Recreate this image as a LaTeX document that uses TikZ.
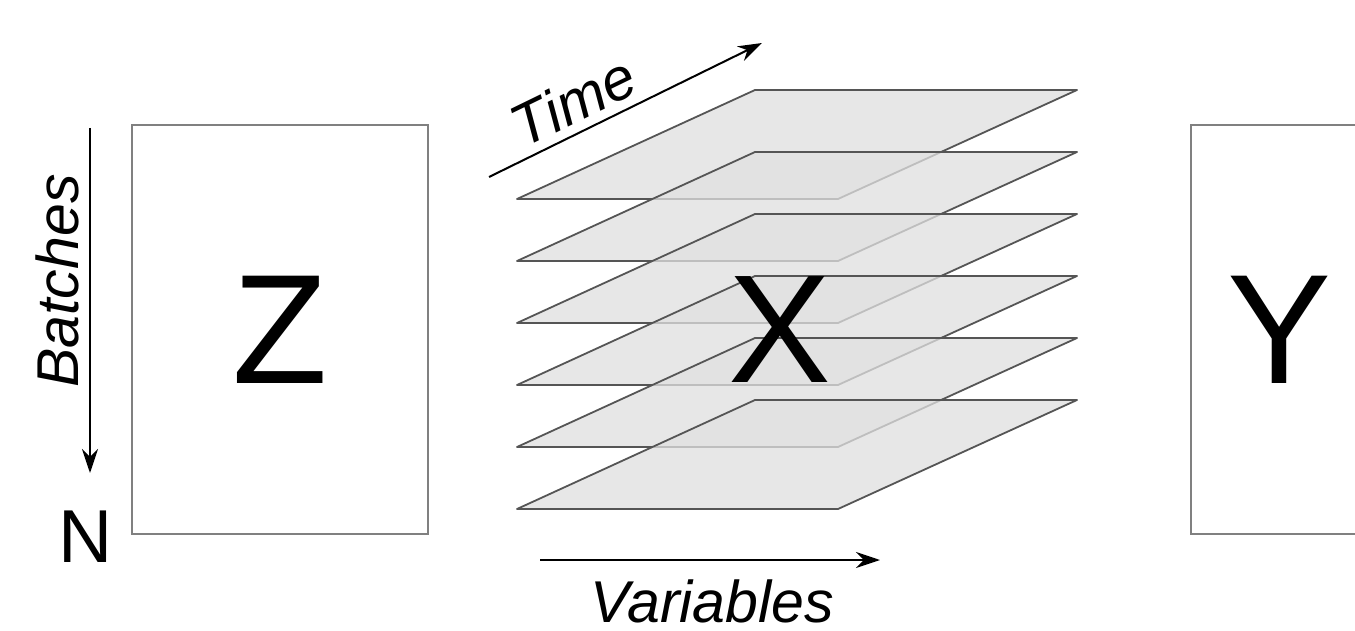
\documentclass[tikz,border=0pt]{standalone}
\usepackage{fontspec}
\setmainfont{Liberation Sans}
\usetikzlibrary{arrows.meta}
\definecolor{edgegray}{HTML}{555555}
\definecolor{planefill}{HTML}{E0E0E0}
\definecolor{boxgray}{HTML}{808080}
\tikzset{
  matbox/.style={draw=boxgray, line width=2pt, inner sep=0pt, font=\fontsize{156}{156}\selectfont},
  bigletter/.style={inner sep=0pt, font=\fontsize{154}{154}\selectfont},
  axislabel/.style={inner sep=0pt, font=\fontsize{59}{59}\selectfont\itshape},
  nlabel/.style={inner sep=0pt, font=\fontsize{75}{75}\selectfont},
  axisarrow/.style={line width=2pt, -{Stealth[length=24pt,width=16pt]}},
  plane/.style={draw=edgegray, line width=1.8pt, fill=planefill, fill opacity=0.76, line join=round},
}
\begin{document}
\begin{tikzpicture}[x=1pt,y=-1pt]
\path[use as bounding box, clip] (0,0) rectangle (1355,631);
% matrices Z and Y
\node[matbox, minimum width=296pt, minimum height=409pt] (zbox) at (280,329.5) {Z};
\node[matbox, minimum width=178pt, minimum height=409pt] (ybox) at (1280,329.5) {Y};
% stack of planes for X
\foreach \i in {0,...,5} {
  \pgfmathsetmacro\b{199+62*\i}
  \draw[plane] (517,\b) -- (838,\b) -- (1077,\b-109) -- (755,\b-109) -- cycle;
}
\node[bigletter] (xlab) at (780,330) {X};
% Batches axis
\coordinate (bt) at (90,128);
\coordinate (bb) at (90,473);
\draw[axisarrow] (bt) -- (bb);
\node[axislabel, rotate=90, anchor=base] (batches) at (78,281) {Batches};
\node[nlabel, anchor=base] (nlab) at (86,562) {N};
% Time axis
\coordinate (ts) at (489,177);
\coordinate (te) at (762,43);
\draw[axisarrow] (ts) -- (te);
\node[axislabel, rotate=26, anchor=base] (time) at (582,120) {Time};
% Variables axis
\coordinate (vs) at (540,560);
\coordinate (ve) at (880,560);
\draw[axisarrow] (vs) -- (ve);
\node[axislabel, anchor=base] (vars) at (712,622) {Variables};
\end{tikzpicture}
\end{document}
